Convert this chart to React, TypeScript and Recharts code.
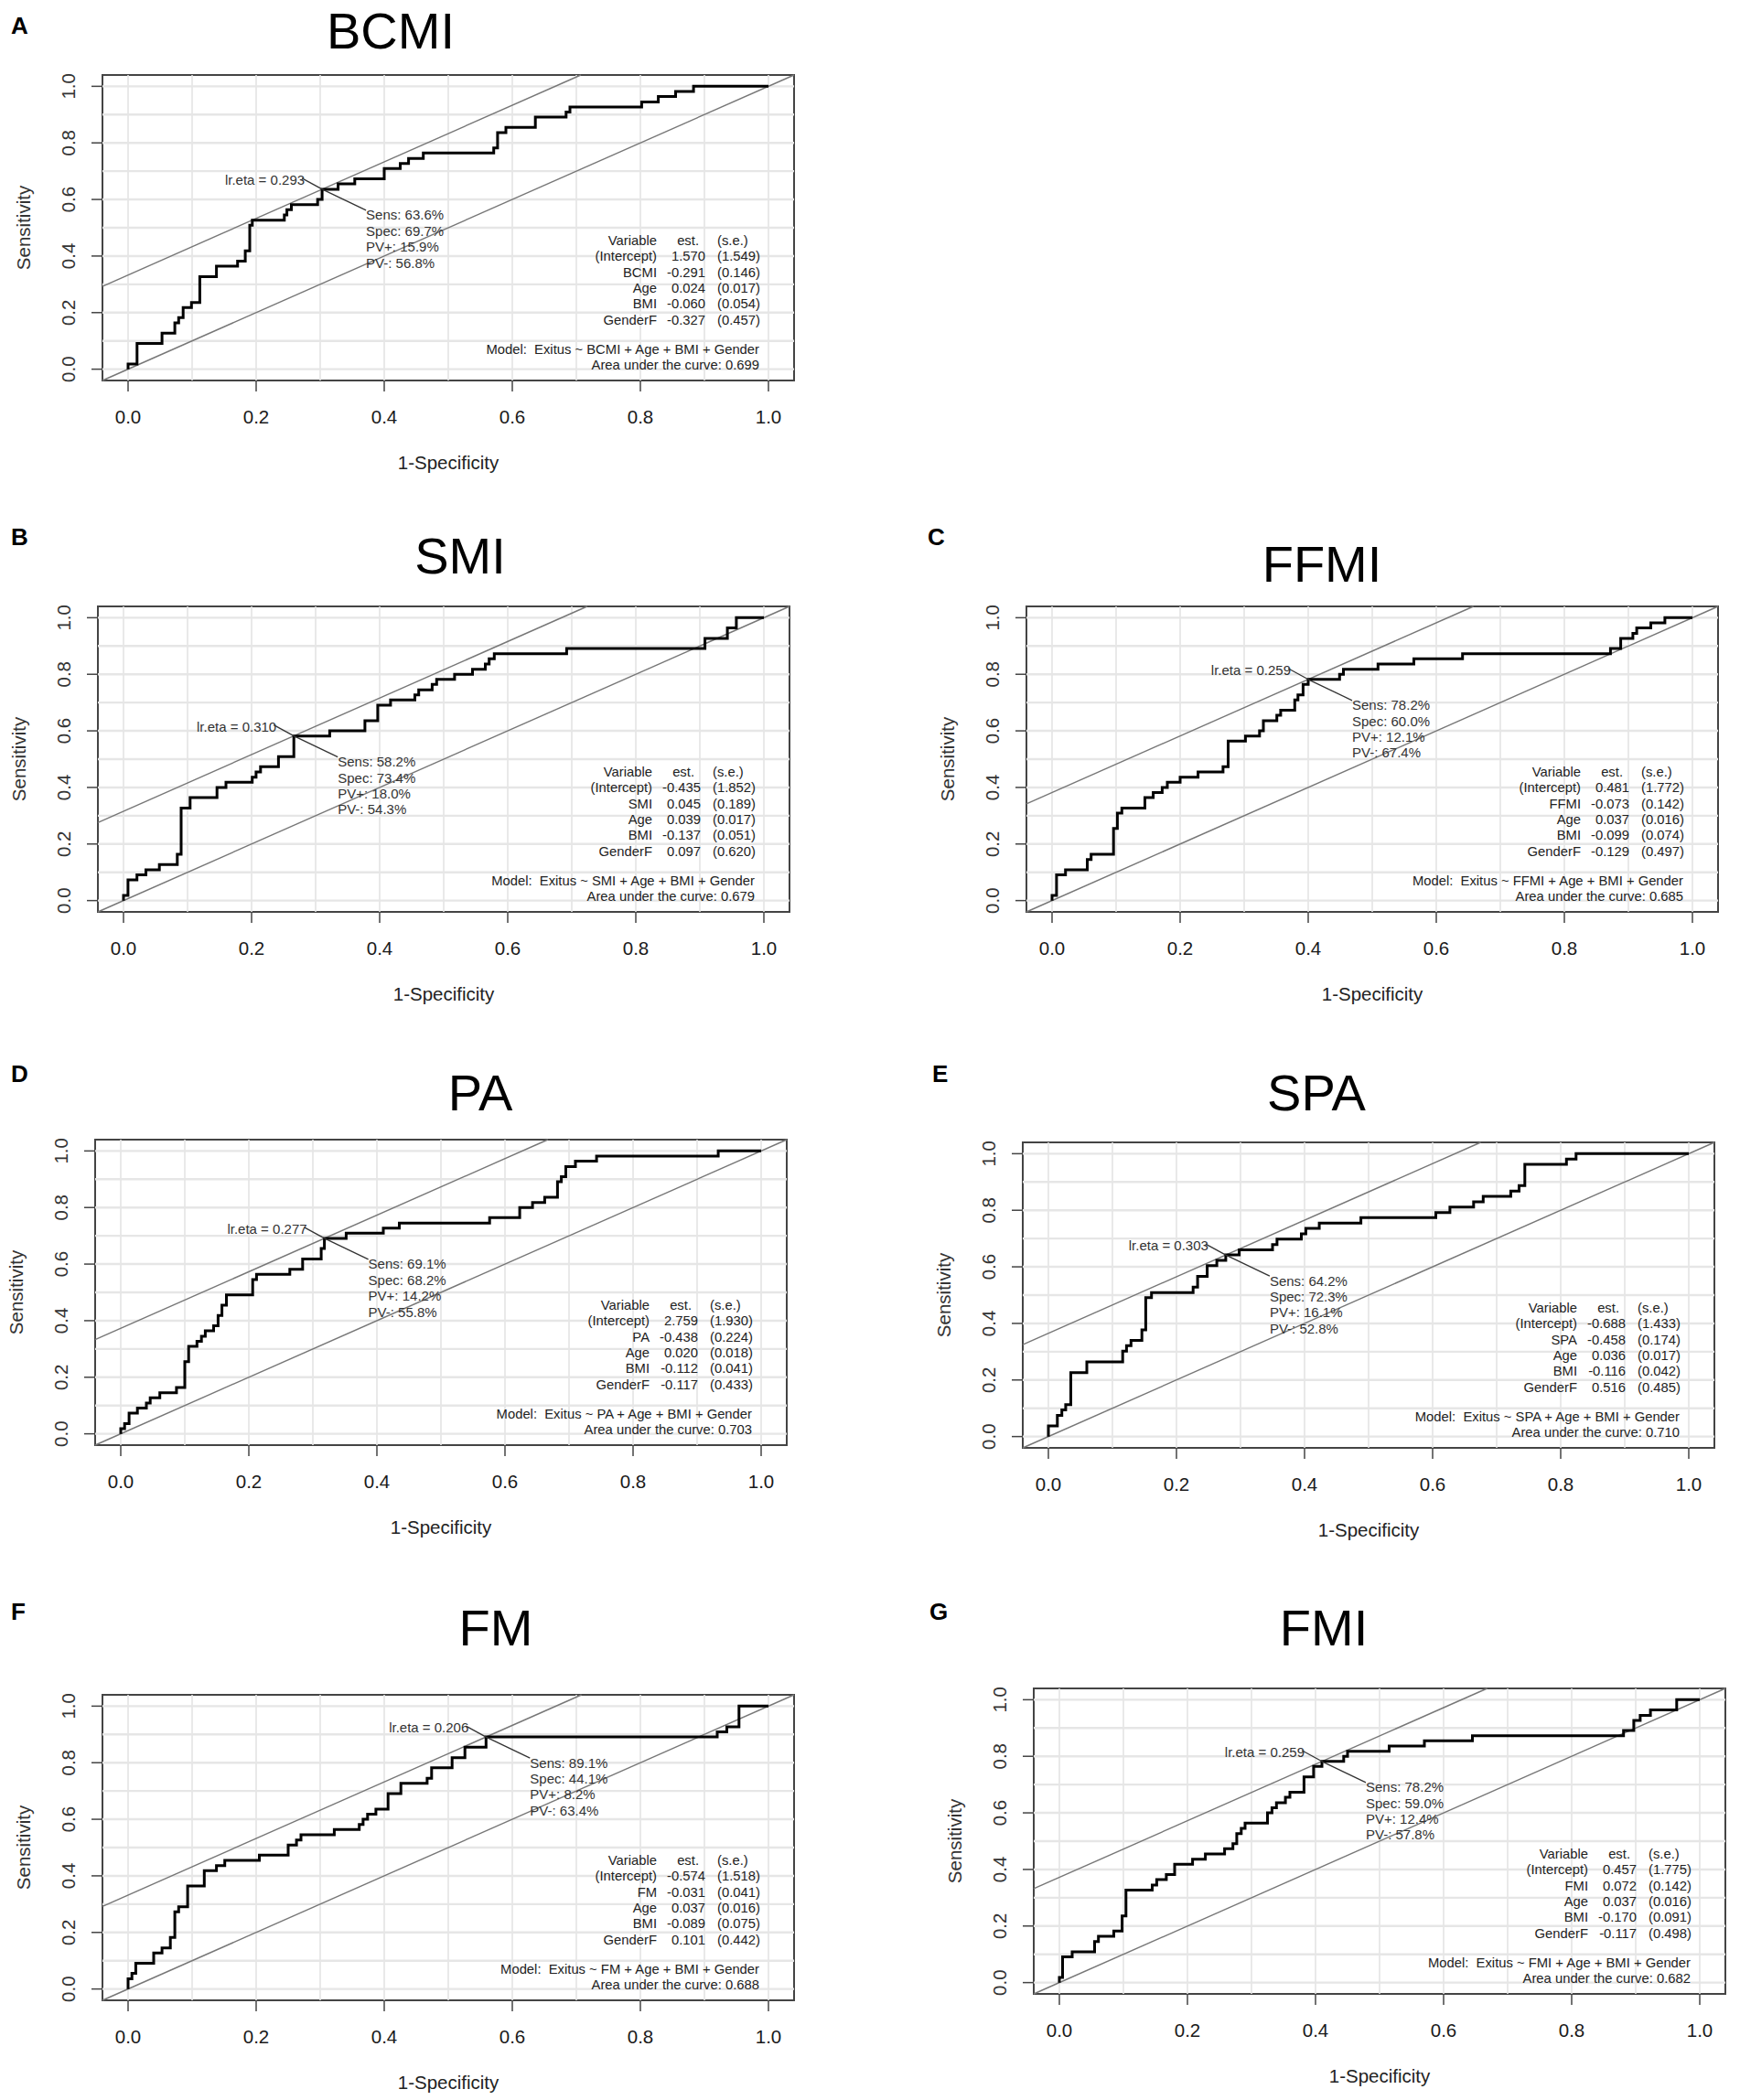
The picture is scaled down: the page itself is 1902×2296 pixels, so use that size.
import React from 'react';
import { LineChart, Line, XAxis, YAxis, ReferenceLine, ReferenceArea, ReferenceDot } from 'recharts';

// ---------- data ----------
const panelIds = ['A', 'B', 'C', 'D', 'E', 'F', 'G'];
const panelTitles = ['BCMI', 'SMI', 'FFMI', 'PA', 'SPA', 'FM', 'FMI'];

const fprA = [0, 0, 0.014, 0.053, 0.073, 0.079, 0.086, 0.099, 0.112, 0.138, 0.171, 0.183, 0.19, 0.194, 0.244, 0.248, 0.255, 0.296, 0.303, 0.328, 0.354, 0.4, 0.425, 0.438, 0.461, 0.571, 0.577, 0.59, 0.636, 0.684, 0.69, 0.802, 0.828, 0.855, 0.883, 1];
const sensA = [0, 0.018, 0.091, 0.127, 0.164, 0.182, 0.218, 0.236, 0.327, 0.364, 0.382, 0.418, 0.509, 0.527, 0.545, 0.564, 0.582, 0.6, 0.636, 0.655, 0.673, 0.709, 0.727, 0.745, 0.764, 0.782, 0.836, 0.855, 0.891, 0.909, 0.927, 0.945, 0.964, 0.982, 1, 1];

const fprB = [0, 0, 0.007, 0.021, 0.035, 0.056, 0.084, 0.09, 0.104, 0.146, 0.16, 0.201, 0.207, 0.214, 0.242, 0.266, 0.322, 0.377, 0.397, 0.417, 0.455, 0.461, 0.482, 0.489, 0.517, 0.545, 0.565, 0.571, 0.579, 0.692, 0.908, 0.943, 0.957, 1];
const sensB = [0, 0.018, 0.073, 0.091, 0.109, 0.127, 0.164, 0.327, 0.364, 0.4, 0.418, 0.436, 0.455, 0.473, 0.509, 0.582, 0.6, 0.636, 0.691, 0.709, 0.727, 0.745, 0.764, 0.782, 0.8, 0.818, 0.836, 0.855, 0.873, 0.891, 0.927, 0.964, 1, 1];

const fprC = [0, 0, 0.007, 0.021, 0.055, 0.061, 0.096, 0.102, 0.109, 0.145, 0.158, 0.172, 0.18, 0.2, 0.228, 0.267, 0.275, 0.302, 0.324, 0.33, 0.351, 0.357, 0.379, 0.384, 0.392, 0.4, 0.449, 0.455, 0.509, 0.565, 0.641, 0.872, 0.888, 0.907, 0.913, 0.935, 0.957, 1];
const sensC = [0, 0.018, 0.091, 0.109, 0.145, 0.164, 0.255, 0.309, 0.327, 0.364, 0.382, 0.4, 0.418, 0.436, 0.455, 0.473, 0.564, 0.582, 0.6, 0.636, 0.655, 0.673, 0.709, 0.727, 0.764, 0.782, 0.8, 0.818, 0.836, 0.855, 0.873, 0.891, 0.927, 0.945, 0.964, 0.982, 1, 1];

const fprD = [0, 0, 0.006, 0.013, 0.026, 0.04, 0.046, 0.061, 0.087, 0.1, 0.106, 0.119, 0.126, 0.132, 0.145, 0.152, 0.158, 0.165, 0.206, 0.212, 0.264, 0.284, 0.313, 0.318, 0.352, 0.41, 0.435, 0.576, 0.623, 0.643, 0.662, 0.682, 0.688, 0.695, 0.71, 0.743, 0.933, 1];
const sensD = [0, 0.018, 0.036, 0.073, 0.091, 0.109, 0.127, 0.145, 0.164, 0.255, 0.309, 0.327, 0.345, 0.364, 0.382, 0.418, 0.455, 0.491, 0.545, 0.564, 0.582, 0.618, 0.655, 0.691, 0.709, 0.727, 0.745, 0.764, 0.8, 0.818, 0.836, 0.891, 0.909, 0.945, 0.964, 0.982, 1, 1];

const fprE = [0, 0, 0.014, 0.021, 0.027, 0.035, 0.06, 0.116, 0.122, 0.129, 0.146, 0.152, 0.161, 0.226, 0.233, 0.248, 0.263, 0.277, 0.298, 0.35, 0.357, 0.395, 0.402, 0.423, 0.488, 0.605, 0.627, 0.664, 0.679, 0.722, 0.735, 0.744, 0.809, 0.824, 1];
const sensE = [0, 0.038, 0.075, 0.094, 0.113, 0.226, 0.264, 0.302, 0.321, 0.34, 0.377, 0.491, 0.509, 0.528, 0.566, 0.604, 0.623, 0.642, 0.66, 0.679, 0.698, 0.717, 0.736, 0.755, 0.774, 0.792, 0.811, 0.83, 0.849, 0.868, 0.887, 0.962, 0.981, 1, 1];

const fprF = [0, 0, 0.006, 0.012, 0.04, 0.053, 0.066, 0.073, 0.079, 0.093, 0.119, 0.138, 0.151, 0.205, 0.25, 0.263, 0.27, 0.322, 0.361, 0.367, 0.374, 0.387, 0.406, 0.426, 0.467, 0.474, 0.506, 0.526, 0.559, 0.92, 0.935, 0.954, 1];
const sensF = [0, 0.036, 0.055, 0.091, 0.127, 0.145, 0.182, 0.273, 0.291, 0.364, 0.418, 0.436, 0.455, 0.473, 0.509, 0.527, 0.545, 0.564, 0.582, 0.6, 0.618, 0.636, 0.691, 0.727, 0.745, 0.782, 0.818, 0.855, 0.891, 0.909, 0.927, 1, 1];

const fprG = [0, 0, 0.005, 0.02, 0.055, 0.061, 0.085, 0.098, 0.104, 0.145, 0.152, 0.167, 0.18, 0.208, 0.228, 0.258, 0.271, 0.277, 0.284, 0.29, 0.325, 0.332, 0.339, 0.353, 0.36, 0.382, 0.397, 0.41, 0.444, 0.45, 0.515, 0.57, 0.645, 0.881, 0.897, 0.907, 0.923, 0.964, 1];
const sensG = [0, 0.018, 0.091, 0.109, 0.145, 0.164, 0.182, 0.236, 0.327, 0.345, 0.364, 0.382, 0.418, 0.436, 0.455, 0.473, 0.491, 0.527, 0.545, 0.564, 0.6, 0.618, 0.636, 0.655, 0.673, 0.727, 0.764, 0.782, 0.8, 0.818, 0.836, 0.855, 0.873, 0.891, 0.927, 0.945, 0.964, 1, 1];

// optimal cut-off statistics
const lrEta = [0.293, 0.31, 0.259, 0.277, 0.303, 0.206, 0.259];
const optSens = [63.6, 58.2, 78.2, 69.1, 64.2, 89.1, 78.2];
const optSpec = [69.7, 73.4, 60.0, 68.2, 72.3, 44.1, 59.0];
const optPPV = [15.9, 18.0, 12.1, 14.2, 16.1, 8.2, 12.4];
const optNPV = [56.8, 54.3, 67.4, 55.8, 52.8, 63.4, 57.8];
const aucValues = [0.699, 0.679, 0.685, 0.703, 0.71, 0.688, 0.682];

// model coefficient tables
const estA = [1.57, -0.291, 0.024, -0.06, -0.327];
const seA = [1.549, 0.146, 0.017, 0.054, 0.457];
const estB = [-0.435, 0.045, 0.039, -0.137, 0.097];
const seB = [1.852, 0.189, 0.017, 0.051, 0.62];
const estC = [0.481, -0.073, 0.037, -0.099, -0.129];
const seC = [1.772, 0.142, 0.016, 0.074, 0.497];
const estD = [2.759, -0.438, 0.02, -0.112, -0.117];
const seD = [1.93, 0.224, 0.018, 0.041, 0.433];
const estE = [-0.688, -0.458, 0.036, -0.116, 0.516];
const seE = [1.433, 0.174, 0.017, 0.042, 0.485];
const estF = [-0.574, -0.031, 0.037, -0.089, 0.101];
const seF = [1.518, 0.041, 0.016, 0.075, 0.442];
const estG = [0.457, 0.072, 0.037, -0.17, -0.117];
const seG = [1.775, 0.142, 0.016, 0.091, 0.498];

const axisTicks = [0, 0.2, 0.4, 0.6, 0.8, 1.0];
const gridValues = [0, 0.1, 0.2, 0.3, 0.4, 0.5, 0.6, 0.7, 0.8, 0.9, 1.0];
const DOMAIN_MIN = -0.04;
const DOMAIN_MAX = 1.04;

const fprs = [fprA, fprB, fprC, fprD, fprE, fprF, fprG];
const senss = [sensA, sensB, sensC, sensD, sensE, sensF, sensG];
const ests = [estA, estB, estC, estD, estE, estF, estG];
const ses = [seA, seB, seC, seD, seE, seF, seG];

// ---------- layout ----------
const FONT = '"Liberation Sans", Arial, Helvetica, sans-serif';
const BOX_W = 756;
const BOX_H = 334;
const PAD_L = 130;
const PAD_T = 10;
const PAD_R = 3;
const PAD_B = 110;
const Y_AXIS_W = 60;
const X_AXIS_H = 60;

const layouts = [
  { L: 112, T: 82, titleX: 427, titleY: 53, letterX: 12, letterY: 37 },
  { L: 107, T: 663, titleX: 503, titleY: 627, letterX: 12, letterY: 596 },
  { L: 1122, T: 663, titleX: 1445, titleY: 636, letterX: 1014, letterY: 596 },
  { L: 104, T: 1246, titleX: 525, titleY: 1214, letterX: 12, letterY: 1183 },
  { L: 1118, T: 1249, titleX: 1439, titleY: 1214, letterX: 1019, letterY: 1183 },
  { L: 112, T: 1853, titleX: 542, titleY: 1799, letterX: 12, letterY: 1771 },
  { L: 1130, T: 1846, titleX: 1447, titleY: 1799, letterX: 1016, letterY: 1771 },
];

const YTick = (props: any) => {
  const { x, y, payload } = props;
  return (
    <text
      transform={`translate(${x},${y}) rotate(-90)`}
      textAnchor="middle"
      dominantBaseline="central"
      fontSize={20.5}
      fill="#333"
      fontFamily={FONT}
    >
      {Number(payload.value).toFixed(1)}
    </text>
  );
};

const XTick = (props: any) => {
  const { x, y, payload } = props;
  return (
    <text x={x} y={y} textAnchor="middle" dominantBaseline="central" fontSize={20.5} fill="#1a1a1a" fontFamily={FONT}>
      {Number(payload.value).toFixed(1)}
    </text>
  );
};

const makeAnnot = (i: number) => (p: any) => {
  const cx = p.cx;
  const cy = p.cy;
  const lines = [
    `Sens: ${optSens[i].toFixed(1)}%`,
    `Spec: ${optSpec[i].toFixed(1)}%`,
    `PV+: ${optPPV[i].toFixed(1)}%`,
    `PV-: ${optNPV[i].toFixed(1)}%`,
  ];
  return (
    <g>
      <line x1={cx} y1={cy} x2={cx - 22} y2={cy - 12} stroke="#333" strokeWidth={1.3} />
      <line x1={cx} y1={cy} x2={cx + 48} y2={cy + 23} stroke="#333" strokeWidth={1.3} />
      <text x={cx - 19} y={cy - 10.5} textAnchor="end" dominantBaseline="central" fontSize={15} fill="#333" fontFamily={FONT}>
        {`lr.eta = ${lrEta[i].toFixed(3)}`}
      </text>
      {lines.map((t, k) => (
        <text key={k} x={cx + 48} y={cy + 28 + k * 17.4} dominantBaseline="central" fontSize={15} fill="#333" fontFamily={FONT}>
          {t}
        </text>
      ))}
    </g>
  );
};

const RocPanel = ({ i }: { i: number }) => {
  const lay = layouts[i];
  const data = fprs[i].map((x, k) => ({ x, y: senss[i][k] }));
  const fpOpt = 1 - optSpec[i] / 100;
  const c = optSens[i] / 100 - fpOpt;
  return (
    <div style={{ position: 'absolute', left: lay.L - PAD_L, top: lay.T - PAD_T }}>
      <LineChart
        width={BOX_W + PAD_L + PAD_R}
        height={BOX_H + PAD_T + PAD_B}
        data={data}
        margin={{ left: PAD_L - Y_AXIS_W, top: PAD_T, right: PAD_R, bottom: PAD_B - X_AXIS_H }}
      >
        <XAxis
          dataKey="x"
          type="number"
          domain={[DOMAIN_MIN, DOMAIN_MAX]}
          allowDataOverflow
          ticks={axisTicks}
          height={X_AXIS_H}
          axisLine={false}
          tickSize={12}
          tickMargin={27}
          tickLine={{ stroke: '#444', strokeWidth: 1.5 }}
          tick={<XTick />}
        />
        <YAxis
          type="number"
          domain={[DOMAIN_MIN, DOMAIN_MAX]}
          allowDataOverflow
          ticks={axisTicks}
          width={Y_AXIS_W}
          axisLine={false}
          tickSize={12}
          tickMargin={26}
          tickLine={{ stroke: '#444', strokeWidth: 1.5 }}
          tick={<YTick />}
        />
        {gridValues.map((g) => (
          <ReferenceLine key={`v${g}`} x={g} stroke="#e4e4e4" strokeWidth={1.6} />
        ))}
        {gridValues.map((g) => (
          <ReferenceLine key={`h${g}`} y={g} stroke="#e6e6e6" strokeWidth={2.4} />
        ))}
        <ReferenceLine
          segment={[
            { x: DOMAIN_MIN, y: DOMAIN_MIN },
            { x: DOMAIN_MAX, y: DOMAIN_MAX },
          ]}
          stroke="#777"
          strokeWidth={1.4}
        />
        <ReferenceLine
          segment={[
            { x: DOMAIN_MIN, y: DOMAIN_MIN + c },
            { x: DOMAIN_MAX - c, y: DOMAIN_MAX },
          ]}
          stroke="#777"
          strokeWidth={1.4}
        />
        <Line
          dataKey="y"
          type="stepAfter"
          stroke="#000"
          strokeWidth={3}
          dot={false}
          isAnimationActive={false}
        />
        <ReferenceDot x={fpOpt} y={optSens[i] / 100} r={1} shape={makeAnnot(i)} />
        <ReferenceArea
          x1={DOMAIN_MIN}
          x2={DOMAIN_MAX}
          y1={DOMAIN_MIN}
          y2={DOMAIN_MAX}
          fill="none"
          stroke="#444"
          strokeWidth={2}
          ifOverflow="visible"
        />
      </LineChart>
    </div>
  );
};

const Overlay = () => (
  <svg
    width={1902}
    height={2296}
    style={{ position: 'absolute', left: 0, top: 0, pointerEvents: 'none' }}
    fontFamily={FONT}
  >
    {layouts.map((lay, i) => {
      const R = lay.L + BOX_W;
      const B = lay.T + BOX_H;
      const rowY = (k: number) => B - 153 + k * 17.3;
      const varNames = ['(Intercept)', panelTitles[i], 'Age', 'BMI', 'GenderF'];
      return (
        <g key={i}>
          <text x={lay.letterX} y={lay.letterY} fontSize={26} fontWeight="bold" fill="#000">
            {panelIds[i]}
          </text>
          <text x={lay.titleX} y={lay.titleY} fontSize={56} textAnchor="middle" fill="#000">
            {panelTitles[i]}
          </text>
          <text x={lay.L + BOX_W / 2} y={B + 89} fontSize={20.5} textAnchor="middle" dominantBaseline="central" fill="#222">
            1-Specificity
          </text>
          <text
            transform={`translate(${lay.L - 87},${lay.T + BOX_H / 2}) rotate(-90)`}
            fontSize={20.5}
            textAnchor="middle"
            dominantBaseline="central"
            fill="#333"
          >
            Sensitivity
          </text>
          <g fontSize={14.8} fill="#222" dominantBaseline="central">
            <text x={R - 150} y={rowY(0)} textAnchor="end">Variable</text>
            <text x={R - 104} y={rowY(0)} textAnchor="end">est.</text>
            <text x={R - 84} y={rowY(0)}>(s.e.)</text>
            {varNames.map((v, k) => (
              <g key={k}>
                <text x={R - 150} y={rowY(k + 1)} textAnchor="end">{v}</text>
                <text x={R - 97} y={rowY(k + 1)} textAnchor="end">{ests[i][k].toFixed(3)}</text>
                <text x={R - 84} y={rowY(k + 1)}>{`(${ses[i][k].toFixed(3)})`}</text>
              </g>
            ))}
            <text x={R - 38} y={B - 34} textAnchor="end" style={{ whiteSpace: 'pre' }}>
              {`Model:  Exitus ~ ${panelTitles[i]} + Age + BMI + Gender`}
            </text>
            <text x={R - 38} y={B - 17} textAnchor="end">
              {`Area under the curve: ${aucValues[i].toFixed(3)}`}
            </text>
          </g>
        </g>
      );
    })}
  </svg>
);

export default function App() {
  return (
    <div
      style={{
        position: 'absolute',
        left: 0,
        top: 0,
        width: 1902,
        height: 2296,
        overflow: 'hidden',
        background: '#fff',
      }}
    >
      {panelIds.map((id, i) => (
        <RocPanel key={id} i={i} />
      ))}
      <Overlay />
    </div>
  );
}
